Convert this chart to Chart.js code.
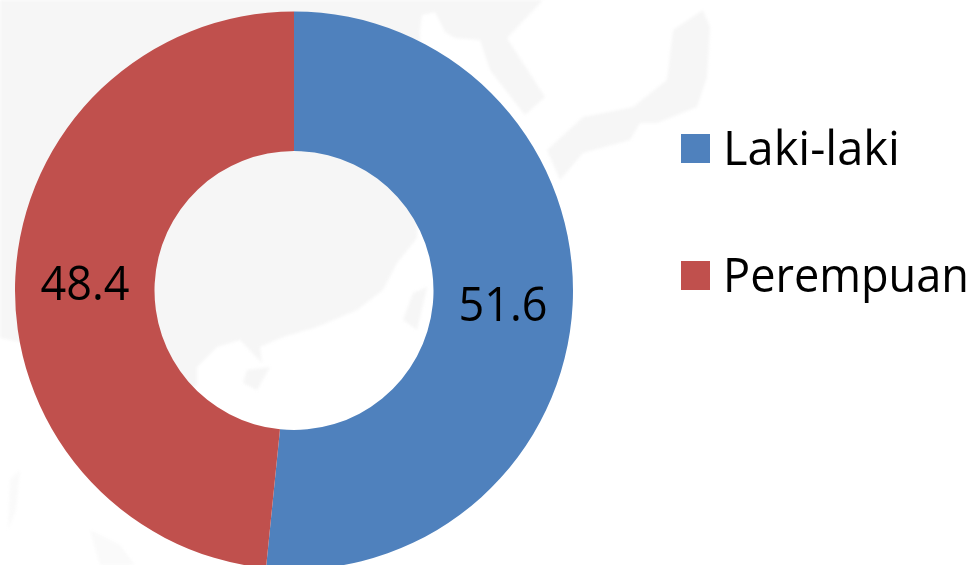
<!DOCTYPE html>
<html>
<head>
<meta charset="utf-8">
<script src="https://cdn.jsdelivr.net/npm/chart.js@4"></script>
<style>
html,body{margin:0;padding:0;background:#fff;overflow:hidden}
#wrap{position:absolute;left:0;top:0;width:975px;height:565px}
</style>
</head>
<body>
<div id="wrap"><canvas id="c" width="975" height="565"></canvas></div>
<script>
const labels = ['Laki-laki', 'Perempuan'];
const values = [51.6, 48.4];
const warna = ['#4F81BD', '#C0504D'];
const fontName = '"Open Sans", "Noto Sans", sans-serif';

// faint map behind the chart, decoration only
const petaDaratan = [
	// mainland + korea
	[[0,0],[543,0],[507,38],[545,97],[525,115],[490,70],[480,40],[455,38],[445,32],[435,12],[422,15],[420,30],[417,238],[397,263],[383,290],[357,310],[317,327],[283,337],[260,347],[262,363],[240,340],[217,347],[197,367],[197,385],[170,400],[120,380],[60,350],[0,338]],
	// japan
	[[703,10],[710,27],[707,77],[697,107],[657,123],[640,123],[630,140],[583,153],[560,180],[547,150],[583,117],[633,107],[667,80],[673,30]],
	// taiwan
	[[427,287],[417,330],[403,320],[413,293]],
	// hainan
	[[270,367],[257,390],[243,383],[247,370]],
]
const petaPulau = [
	[[90,530],[120,545],[135,565],[100,565]],
	[[10,480],[20,470],[16,510],[8,530]],
]

const bgMap = {
	id: 'bgMap',
	beforeDraw: c => {
		const x = c.ctx
		const gambar = (list, warnaPeta) => {
			x.fillStyle = warnaPeta
			list.forEach(p => {
				x.beginPath()
				p.forEach((q,i) => i ? x.lineTo(q[0],q[1]) : x.moveTo(q[0],q[1]))
				x.closePath()
				x.fill()
			})
		}
		x.save()
		x.filter = 'blur(1.5px)'
		gambar(petaDaratan, '#f6f6f6')
		gambar(petaPulau, '#fafafa')
		x.restore()
	}
}

// value text on each slice, centred on the arc
const sliceLabels = {
	id: 'sliceLabels',
	afterDatasetsDraw: c => {
		const x = c.ctx
		x.save()
		x.font = '48px ' + fontName
		x.fillStyle = '#000'
		x.textAlign = 'center'
		c.getDatasetMeta(0).data.forEach((a,i) => {
			const p = a.getCenterPoint()
			x.fillText(values[i].toFixed(1), p.x, p.y + 20, 89)
		})
		x.restore()
	}
}

// legend at right, squares + labels
const sideLegend = {
	id: 'sideLegend',
	afterDraw: c => {
		const x = c.ctx
		const ys = [165, 292]
		x.save()
		x.font = '47px ' + fontName
		labels.forEach((l,i) => {
			x.fillStyle = warna[i]
			x.fillRect(681, ys[i]-31, 29, 29)
			x.fillStyle = '#000'
			x.fillText(l, 723, ys[i], 246)
		})
		x.restore()
	}
}

new Chart(document.getElementById('c'), {
	type: 'doughnut',
	data: {
		labels: labels,
		datasets: [{
			data: values,
			backgroundColor: warna,
			borderWidth: 0,
			hoverOffset: 0,
			clip: false,
		}]
	},
	options: {
		responsive: false,
		animation: false,
		radius: 279,
		cutout: '50%',
		layout: { padding: { left: 15, top: 16, right: 402, bottom: 0 } },
		plugins: {
			legend: { display: false },
			tooltip: { enabled: false },
		},
	},
	plugins: [bgMap, sliceLabels, sideLegend],
})
</script>
</body>
</html>
